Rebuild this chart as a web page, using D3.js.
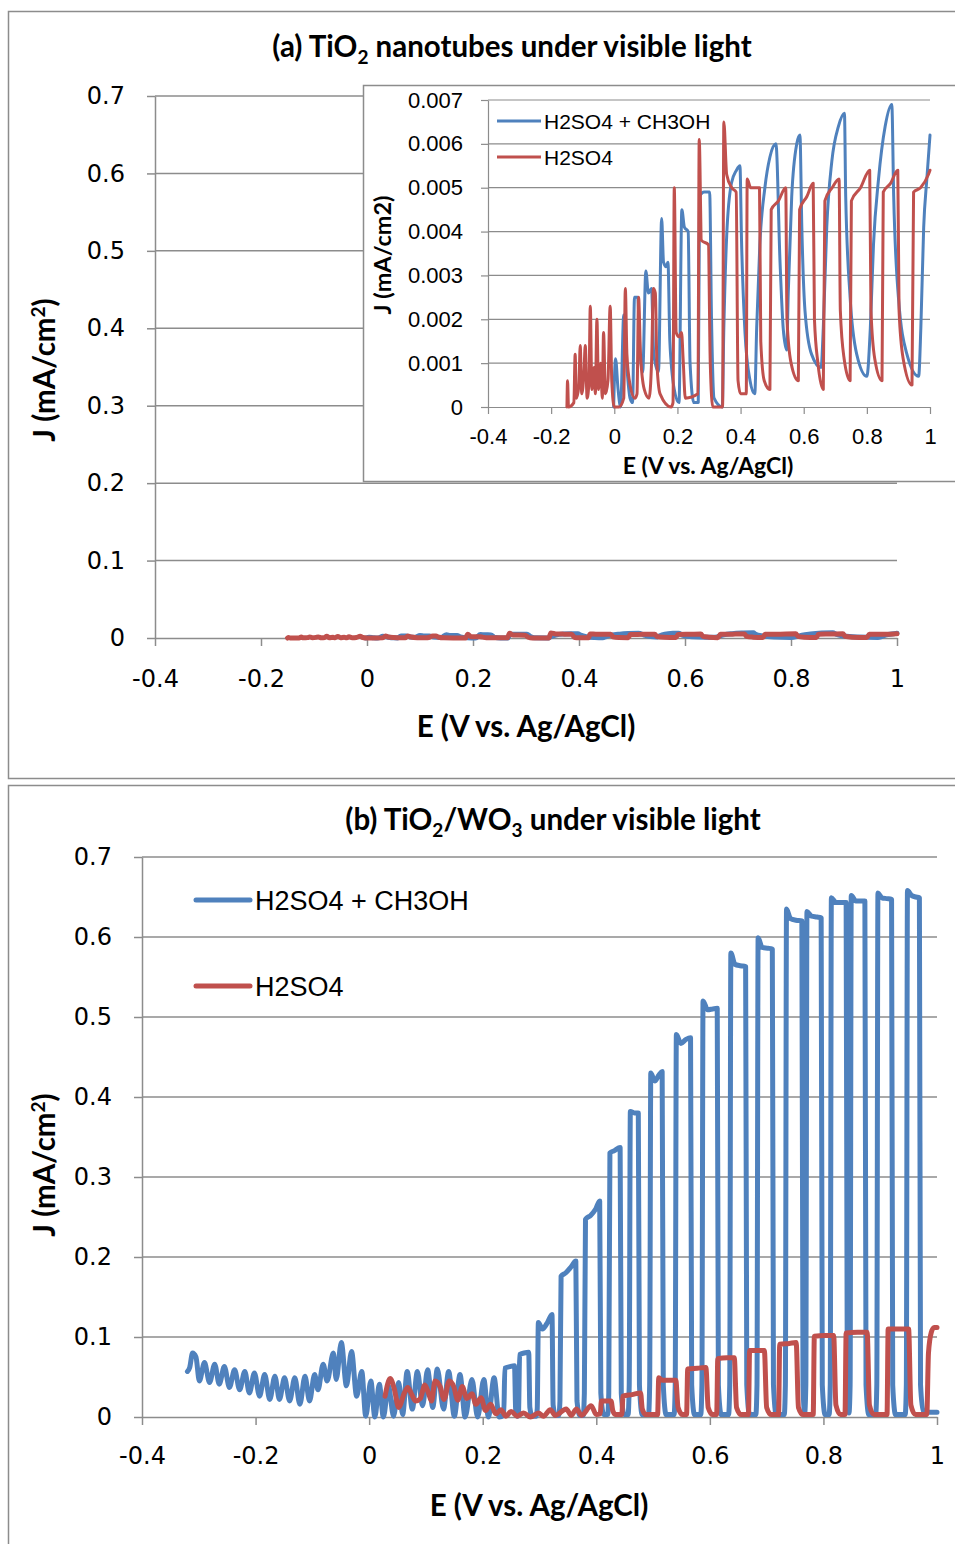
<!DOCTYPE html>
<html>
<head>
<meta charset="utf-8">
<script src="https://cdn.jsdelivr.net/npm/d3@7"></script>
<style>
  body { margin: 0; background: #fff; }
  svg text { font-family: Lato, "Open Sans", sans-serif; fill: #000; }
</style>
</head>
<body>
<svg id="chart" width="955" height="1544"></svg>
<script>
// tick values
var xTicks = [-0.4, -0.2, 0, 0.2, 0.4, 0.6, 0.8, 1];
var yTicksMain = [0, 0.1, 0.2, 0.3, 0.4, 0.5, 0.6, 0.7];
var yTicksInset = [0, 0.001, 0.002, 0.003, 0.004, 0.005, 0.006, 0.007];
var seriesNames = ["H2SO4 + CH3OH", "H2SO4"];

// (a) TiO2 nanotubes, [E, J]
var tio2Methanol = [
  [-0.002,0.0000],[0.004,0.0011],[0.012,0.0004],[0.020,0.0000],[0.030,0.0021],[0.040,0.0009],
  [0.050,0.0002],[0.058,0.0001],[0.064,0.0025],[0.074,0.0025],[0.082,0.0012],[0.090,0.0008],
  [0.100,0.0031],[0.108,0.0026],[0.118,0.0027],[0.125,0.0012],[0.140,0.0008],[0.150,0.0043],
  [0.156,0.0033],[0.164,0.0032],[0.170,0.0033],[0.176,0.0015],[0.190,0.0004],[0.205,0.0001],
  [0.214,0.0045],[0.222,0.0041],[0.234,0.0040],[0.240,0.0010],[0.252,0.0001],[0.266,0.0001],
  [0.270,0.0048],[0.285,0.0049],[0.302,0.0049],[0.308,0.0020],[0.316,0.0002],[0.342,0.0000],
  [0.347,0.0018],[0.356,0.0039],[0.371,0.0051],[0.387,0.0054],[0.398,0.0055],[0.403,0.0038],
  [0.414,0.0017],[0.430,0.0006],[0.445,0.0003],[0.451,0.0018],[0.461,0.0037],[0.477,0.0050],
  [0.493,0.0057],[0.512,0.0060],[0.525,0.0033],[0.535,0.0018],[0.546,0.0013],[0.551,0.0026],
  [0.562,0.0048],[0.578,0.0060],[0.588,0.0062],[0.594,0.0041],[0.604,0.0022],[0.625,0.0012],
  [0.655,0.0009],[0.662,0.0018],[0.673,0.0041],[0.689,0.0056],[0.710,0.0064],[0.729,0.0067],
  [0.733,0.0048],[0.747,0.0025],[0.768,0.0012],[0.800,0.0007],[0.811,0.0018],[0.821,0.0037],
  [0.837,0.0052],[0.858,0.0064],[0.879,0.0069],[0.885,0.0048],[0.900,0.0025],[0.927,0.0012],
  [0.964,0.0007],[0.971,0.0018],[0.980,0.0041],[0.990,0.0052],[1.000,0.0062]
];
var tio2Sulfuric = [
  [-0.150,0.0000],[-0.148,0.0006],[-0.145,0.0000],[-0.128,0.0001],[-0.124,0.0012],[-0.120,0.0002],
  [-0.112,0.0005],[-0.108,0.0014],[-0.103,0.0003],[-0.096,0.0008],[-0.092,0.0014],[-0.086,0.0002],
  [-0.080,0.0006],[-0.076,0.0023],[-0.071,0.0004],[-0.064,0.0009],[-0.060,0.0003],[-0.055,0.0020],
  [-0.050,0.0004],[-0.043,0.0010],[-0.038,0.0002],[-0.034,0.0017],[-0.028,0.0003],[-0.020,0.0006],
  [-0.013,0.0023],[-0.008,0.0006],[0.000,0.0000],[0.015,0.0000],[0.030,0.0002],[0.035,0.0027],
  [0.040,0.0012],[0.050,0.0005],[0.065,0.0002],[0.072,0.0003],[0.077,0.0025],[0.083,0.0012],
  [0.095,0.0004],[0.110,0.0002],[0.118,0.0010],[0.124,0.0027],[0.130,0.0026],[0.135,0.0010],
  [0.145,0.0003],[0.180,0.0000],[0.186,0.0001],[0.190,0.0050],[0.196,0.0017],[0.205,0.0016],
  [0.213,0.0017],[0.218,0.0011],[0.225,0.0002],[0.265,0.0003],[0.269,0.0061],[0.276,0.0038],
  [0.298,0.0037],[0.304,0.0010],[0.312,0.0000],[0.343,0.0000],[0.347,0.0065],[0.356,0.0053],
  [0.372,0.0050],[0.386,0.0049],[0.392,0.0006],[0.400,0.0003],[0.418,0.0003],[0.421,0.0052],
  [0.432,0.0050],[0.460,0.0050],[0.464,0.0015],[0.475,0.0006],[0.493,0.0004],[0.497,0.0045],
  [0.520,0.0047],[0.543,0.0050],[0.547,0.0020],[0.560,0.0010],[0.583,0.0006],[0.587,0.0045],
  [0.610,0.0048],[0.630,0.0051],[0.634,0.0020],[0.645,0.0010],[0.662,0.0004],[0.667,0.0047],
  [0.690,0.0050],[0.712,0.0052],[0.716,0.0022],[0.728,0.0011],[0.747,0.0006],[0.751,0.0047],
  [0.780,0.0050],[0.809,0.0054],[0.813,0.0022],[0.825,0.0011],[0.848,0.0006],[0.852,0.0049],
  [0.875,0.0051],[0.898,0.0054],[0.902,0.0022],[0.915,0.0011],[0.943,0.0005],[0.948,0.0049],
  [0.970,0.0050],[0.995,0.0053],[1.000,0.0054]
];

// (b) TiO2/WO3, [E, J]
var wo3Methanol = [
  [-0.320,0.057],[-0.316,0.062],[-0.311,0.080],[-0.305,0.075],[-0.299,0.045],[-0.290,0.068],
  [-0.281,0.043],[-0.272,0.066],[-0.264,0.041],[-0.255,0.063],[-0.246,0.037],[-0.237,0.059],
  [-0.228,0.034],[-0.219,0.057],[-0.211,0.030],[-0.202,0.055],[-0.193,0.026],[-0.184,0.053],
  [-0.175,0.022],[-0.166,0.051],[-0.158,0.022],[-0.149,0.049],[-0.140,0.020],[-0.131,0.049],
  [-0.122,0.016],[-0.113,0.051],[-0.105,0.020],[-0.096,0.053],[-0.090,0.034],[-0.081,0.066],
  [-0.074,0.045],[-0.063,0.080],[-0.058,0.047],[-0.049,0.093],[-0.040,0.039],[-0.031,0.082],
  [-0.022,0.026],[-0.013,0.057],[-0.006,0.001],[0.003,0.045],[0.010,0.000],[0.018,0.041],
  [0.025,0.000],[0.034,0.039],[0.043,0.001],[0.052,0.043],[0.059,0.003],[0.067,0.057],
  [0.076,0.010],[0.085,0.057],[0.094,0.014],[0.103,0.059],[0.112,0.012],[0.120,0.060],
  [0.131,0.010],[0.140,0.057],[0.150,0.001],[0.160,0.053],[0.169,0.000],[0.181,0.047],
  [0.191,0.000],[0.202,0.047],[0.210,0.000],[0.220,0.049],[0.229,0.000],
  [0.237,0.002],[0.239,0.061],[0.248,0.063],[0.256,0.064],[0.258,0.010],[0.261,0.001],
  [0.263,0.003],[0.265,0.078],[0.273,0.080],[0.281,0.081],[0.283,0.012],[0.287,0.001],[0.294,0.001],
  [0.296,0.010],[0.298,0.118],[0.305,0.110],[0.314,0.118],[0.322,0.128],[0.324,0.015],[0.328,0.002],[0.334,0.002],
  [0.336,0.020],[0.338,0.176],[0.346,0.180],[0.356,0.188],[0.364,0.195],[0.366,0.020],[0.371,0.002],[0.377,0.002],
  [0.379,0.030],[0.381,0.247],[0.390,0.252],[0.399,0.260],[0.406,0.270],[0.408,0.030],[0.413,0.003],[0.420,0.003],
  [0.422,0.030],[0.424,0.330],[0.432,0.333],[0.442,0.337],[0.444,0.030],[0.449,0.003],[0.456,0.003],
  [0.458,0.040],[0.460,0.382],[0.467,0.380],[0.474,0.380],[0.476,0.040],[0.481,0.003],[0.492,0.003],
  [0.494,0.040],[0.496,0.430],[0.503,0.420],[0.510,0.427],[0.516,0.432],[0.518,0.040],[0.523,0.003],[0.537,0.003],
  [0.539,0.040],[0.541,0.478],[0.549,0.467],[0.558,0.472],[0.566,0.474],[0.568,0.040],[0.573,0.003],[0.584,0.003],
  [0.586,0.040],[0.588,0.520],[0.596,0.509],[0.605,0.510],[0.613,0.511],[0.615,0.040],[0.620,0.003],[0.633,0.003],
  [0.635,0.040],[0.637,0.580],[0.644,0.566],[0.654,0.564],[0.663,0.563],[0.665,0.040],[0.670,0.003],[0.681,0.003],
  [0.683,0.040],[0.685,0.599],[0.692,0.587],[0.702,0.586],[0.710,0.585],[0.712,0.040],[0.717,0.003],[0.731,0.003],
  [0.733,0.040],[0.735,0.635],[0.742,0.623],[0.752,0.621],[0.762,0.620],[0.764,0.040],[0.767,0.005],[0.769,0.040],
  [0.771,0.632],[0.779,0.626],[0.789,0.625],[0.796,0.624],[0.798,0.040],[0.803,0.003],[0.810,0.003],
  [0.812,0.040],[0.814,0.649],[0.822,0.643],[0.832,0.643],[0.840,0.643],[0.842,0.040],[0.845,0.005],[0.847,0.040],
  [0.849,0.652],[0.857,0.645],[0.866,0.645],[0.873,0.645],[0.875,0.040],[0.880,0.003],[0.892,0.003],
  [0.894,0.040],[0.896,0.655],[0.903,0.649],[0.912,0.648],[0.920,0.647],[0.922,0.040],[0.927,0.003],[0.944,0.003],
  [0.946,0.040],[0.948,0.658],[0.955,0.652],[0.963,0.650],[0.969,0.649],[0.971,0.040],[0.976,0.008],[0.982,0.006],[1.000,0.006]
];
var wo3Sulfuric = [
  [0.028,0.026],[0.037,0.048],[0.044,0.036],[0.052,0.012],[0.062,0.030],[0.068,0.037],[0.075,0.028],
  [0.082,0.020],[0.090,0.023],[0.098,0.040],[0.104,0.031],[0.110,0.020],[0.116,0.045],[0.125,0.038],
  [0.132,0.022],[0.141,0.045],[0.149,0.038],[0.156,0.021],[0.164,0.038],[0.172,0.023],[0.181,0.029],
  [0.188,0.016],[0.197,0.024],[0.205,0.008],[0.214,0.016],[0.223,0.004],[0.232,0.009],[0.241,0.001],
  [0.250,0.007],[0.261,0.001],[0.272,0.005],[0.284,0.000],[0.298,0.005],[0.307,0.001],[0.319,0.009],
  [0.328,0.002],[0.347,0.010],[0.356,0.002],[0.365,0.010],[0.374,0.002],[0.391,0.014],[0.400,0.003],
  [0.407,0.004],[0.409,0.020],[0.418,0.020],[0.426,0.020],[0.429,0.008],[0.434,0.003],[0.445,0.003],
  [0.447,0.026],[0.463,0.028],[0.478,0.030],[0.481,0.010],[0.487,0.003],[0.508,0.003],
  [0.510,0.049],[0.516,0.046],[0.530,0.046],[0.540,0.046],[0.544,0.012],[0.552,0.003],[0.559,0.003],
  [0.561,0.060],[0.578,0.061],[0.593,0.062],[0.597,0.012],[0.605,0.003],[0.612,0.003],
  [0.614,0.073],[0.630,0.074],[0.643,0.074],[0.647,0.012],[0.655,0.003],[0.668,0.003],
  [0.670,0.083],[0.685,0.083],[0.696,0.083],[0.700,0.012],[0.708,0.003],[0.721,0.003],
  [0.723,0.091],[0.740,0.092],[0.752,0.093],[0.756,0.012],[0.764,0.003],[0.782,0.003],
  [0.784,0.101],[0.803,0.102],[0.818,0.102],[0.822,0.015],[0.830,0.003],[0.838,0.003],
  [0.840,0.105],[0.860,0.106],[0.877,0.106],[0.881,0.015],[0.889,0.003],[0.912,0.003],
  [0.914,0.110],[0.933,0.110],[0.950,0.110],[0.954,0.015],[0.962,0.003],[0.982,0.003],
  [0.985,0.080],[0.990,0.106],[0.995,0.112],[1.000,0.112]
];

var blue = "#4F81BD", red = "#C0504D", grey = "#8C8C8C";

var svg = d3.select("#chart");

// panel frames
svg.append("rect").attr("x", 8.5).attr("y", 11.5).attr("width", 960).attr("height", 767)
  .attr("fill", "none").attr("stroke", grey).attr("stroke-width", 1.5);
svg.append("rect").attr("x", 8.5).attr("y", 785.5).attr("width", 960).attr("height", 780)
  .attr("fill", "none").attr("stroke", grey).attr("stroke-width", 1.5);

// draws grid + axes for one plot area
function drawAxes(x, y, yTicks, o) {
  var x0 = x.range()[0], x1 = x.range()[1];
  svg.append("g").selectAll("line")
    .data(yTicks.filter(d => d > 0))
    .join("line")
      .attr("x1", x0).attr("x2", x1)
      .attr("y1", d => y(d)).attr("y2", d => y(d))
      .attr("stroke", grey).attr("stroke-width", o.gw);

  var yAxis = svg.append("g")
    .attr("transform", `translate(${x0},0)`)
    .call(d3.axisLeft(y).tickValues(yTicks).tickSize(o.tick).tickSizeOuter(0)
      .tickPadding(o.ypad).tickFormat(d => String(d)));
  var xAxis = svg.append("g")
    .attr("transform", `translate(0,${y.range()[0]})`)
    .call(d3.axisBottom(x).tickValues(xTicks).tickSize(o.tick).tickSizeOuter(0)
      .tickPadding(o.xpad).tickFormat(d => String(d)));

  [yAxis, xAxis].forEach(a => {
    a.select(".domain").attr("stroke", grey).attr("stroke-width", o.gw);
    a.selectAll(".tick line").attr("stroke", grey).attr("stroke-width", o.gw);
    a.selectAll(".tick text").style("font-family", o.font).style("font-size", o.fs + "px").attr("fill", "#000");
  });
}

function drawSeries(x, y, data, color, width) {
  var line = d3.line().x(d => x(d[0])).y(d => y(d[1])).curve(d3.curveMonotoneX);
  svg.append("path").datum(data)
    .attr("d", line)
    .attr("fill", "none").attr("stroke", color).attr("stroke-width", width)
    .attr("stroke-linejoin", "round").attr("stroke-linecap", "round");
}

// ===== panel (a) =====
var xA = d3.scaleLinear().domain([-0.4, 1]).range([155, 897]);
var yA = d3.scaleLinear().domain([0, 0.7]).range([638, 96]);
drawAxes(xA, yA, yTicksMain, {gw: 1.5, tick: 8, ypad: 22, xpad: 24, fs: 24, font: "DejaVu Sans"});
drawSeries(xA, yA, tio2Methanol, blue, 5);
drawSeries(xA, yA, tio2Sulfuric, red, 5);

var titleA = svg.append("text").attr("x", 512).attr("y", 57).attr("text-anchor", "middle")
  .style("font-size", "29.5px").style("font-weight", "bold");
titleA.append("tspan").text("(a) TiO");
titleA.append("tspan").attr("dy", 7).style("font-size", "19px").text("2");
titleA.append("tspan").attr("dy", -7).text(" nanotubes under visible light");

svg.append("text").attr("x", 526).attr("y", 737).attr("text-anchor", "middle")
  .style("font-size", "29.5px").style("font-weight", "bold").text("E (V vs. Ag/AgCl)");

var yTitleA = svg.append("text").attr("transform", "translate(55,370) rotate(-90)")
  .attr("text-anchor", "middle").style("font-size", "29.5px").style("font-weight", "bold");
yTitleA.append("tspan").text("J (mA/cm");
yTitleA.append("tspan").attr("dy", -10).style("font-size", "19px").text("2");
yTitleA.append("tspan").attr("dy", 10).text(")");

// inset
svg.append("rect").attr("x", 363.5).attr("y", 85.5).attr("width", 620).attr("height", 396)
  .attr("fill", "#fff").attr("stroke", grey).attr("stroke-width", 1.5);
var xI = d3.scaleLinear().domain([-0.4, 1]).range([488, 930]);
var yI = d3.scaleLinear().domain([0, 0.007]).range([407, 100]);
drawAxes(xI, yI, yTicksInset, {gw: 1.2, tick: 7, ypad: 18, xpad: 14, fs: 22, font: "Liberation Sans"});
drawSeries(xI, yI, tio2Methanol, blue, 3);
drawSeries(xI, yI, tio2Sulfuric, red, 3);

svg.append("text").attr("x", 708).attr("y", 474).attr("text-anchor", "middle")
  .style("font-size", "23px").style("font-weight", "bold").text("E (V vs. Ag/AgCl)");
svg.append("text").attr("transform", "translate(391,255) rotate(-90)")
  .attr("text-anchor", "middle").style("font-size", "23.5px").style("font-weight", "bold").text("J (mA/cm2)");

var legI = svg.append("g");
[blue, red].forEach((c, i) => {
  var yy = 121 + i * 36;
  legI.append("line").attr("x1", 497).attr("x2", 541).attr("y1", yy).attr("y2", yy)
    .attr("stroke", c).attr("stroke-width", 3);
  legI.append("text").attr("x", 544).attr("y", yy + 8)
    .style("font-family", "Liberation Sans").style("font-size", "21px").text(seriesNames[i]);
});

// ===== panel (b) =====
var xB = d3.scaleLinear().domain([-0.4, 1]).range([142, 937]);
var yB = d3.scaleLinear().domain([0, 0.7]).range([1417, 857]);
drawAxes(xB, yB, yTicksMain, {gw: 1.5, tick: 8, ypad: 22, xpad: 22, fs: 24, font: "DejaVu Sans"});
drawSeries(xB, yB, wo3Methanol, blue, 5);
drawSeries(xB, yB, wo3Sulfuric, red, 5);

var titleB = svg.append("text").attr("x", 553).attr("y", 830).attr("text-anchor", "middle")
  .style("font-size", "29.5px").style("font-weight", "bold");
titleB.append("tspan").text("(b) TiO");
titleB.append("tspan").attr("dy", 7).style("font-size", "19px").text("2");
titleB.append("tspan").attr("dy", -7).text("/WO");
titleB.append("tspan").attr("dy", 7).style("font-size", "19px").text("3");
titleB.append("tspan").attr("dy", -7).text(" under visible light");

svg.append("text").attr("x", 539).attr("y", 1516).attr("text-anchor", "middle")
  .style("font-size", "29.5px").style("font-weight", "bold").text("E (V vs. Ag/AgCl)");

var yTitleB = svg.append("text").attr("transform", "translate(55,1165) rotate(-90)")
  .attr("text-anchor", "middle").style("font-size", "29.5px").style("font-weight", "bold");
yTitleB.append("tspan").text("J (mA/cm");
yTitleB.append("tspan").attr("dy", -10).style("font-size", "19px").text("2");
yTitleB.append("tspan").attr("dy", 10).text(")");

var legB = svg.append("g");
[blue, red].forEach((c, i) => {
  var yy = 900 + i * 86;
  legB.append("line").attr("x1", 196).attr("x2", 250).attr("y1", yy).attr("y2", yy)
    .attr("stroke", c).attr("stroke-width", 5).attr("stroke-linecap", "round");
  legB.append("text").attr("x", 255).attr("y", yy + 10)
    .style("font-family", "Liberation Sans").style("font-size", "27px").text(seriesNames[i]);
});
</script>
</body>
</html>
